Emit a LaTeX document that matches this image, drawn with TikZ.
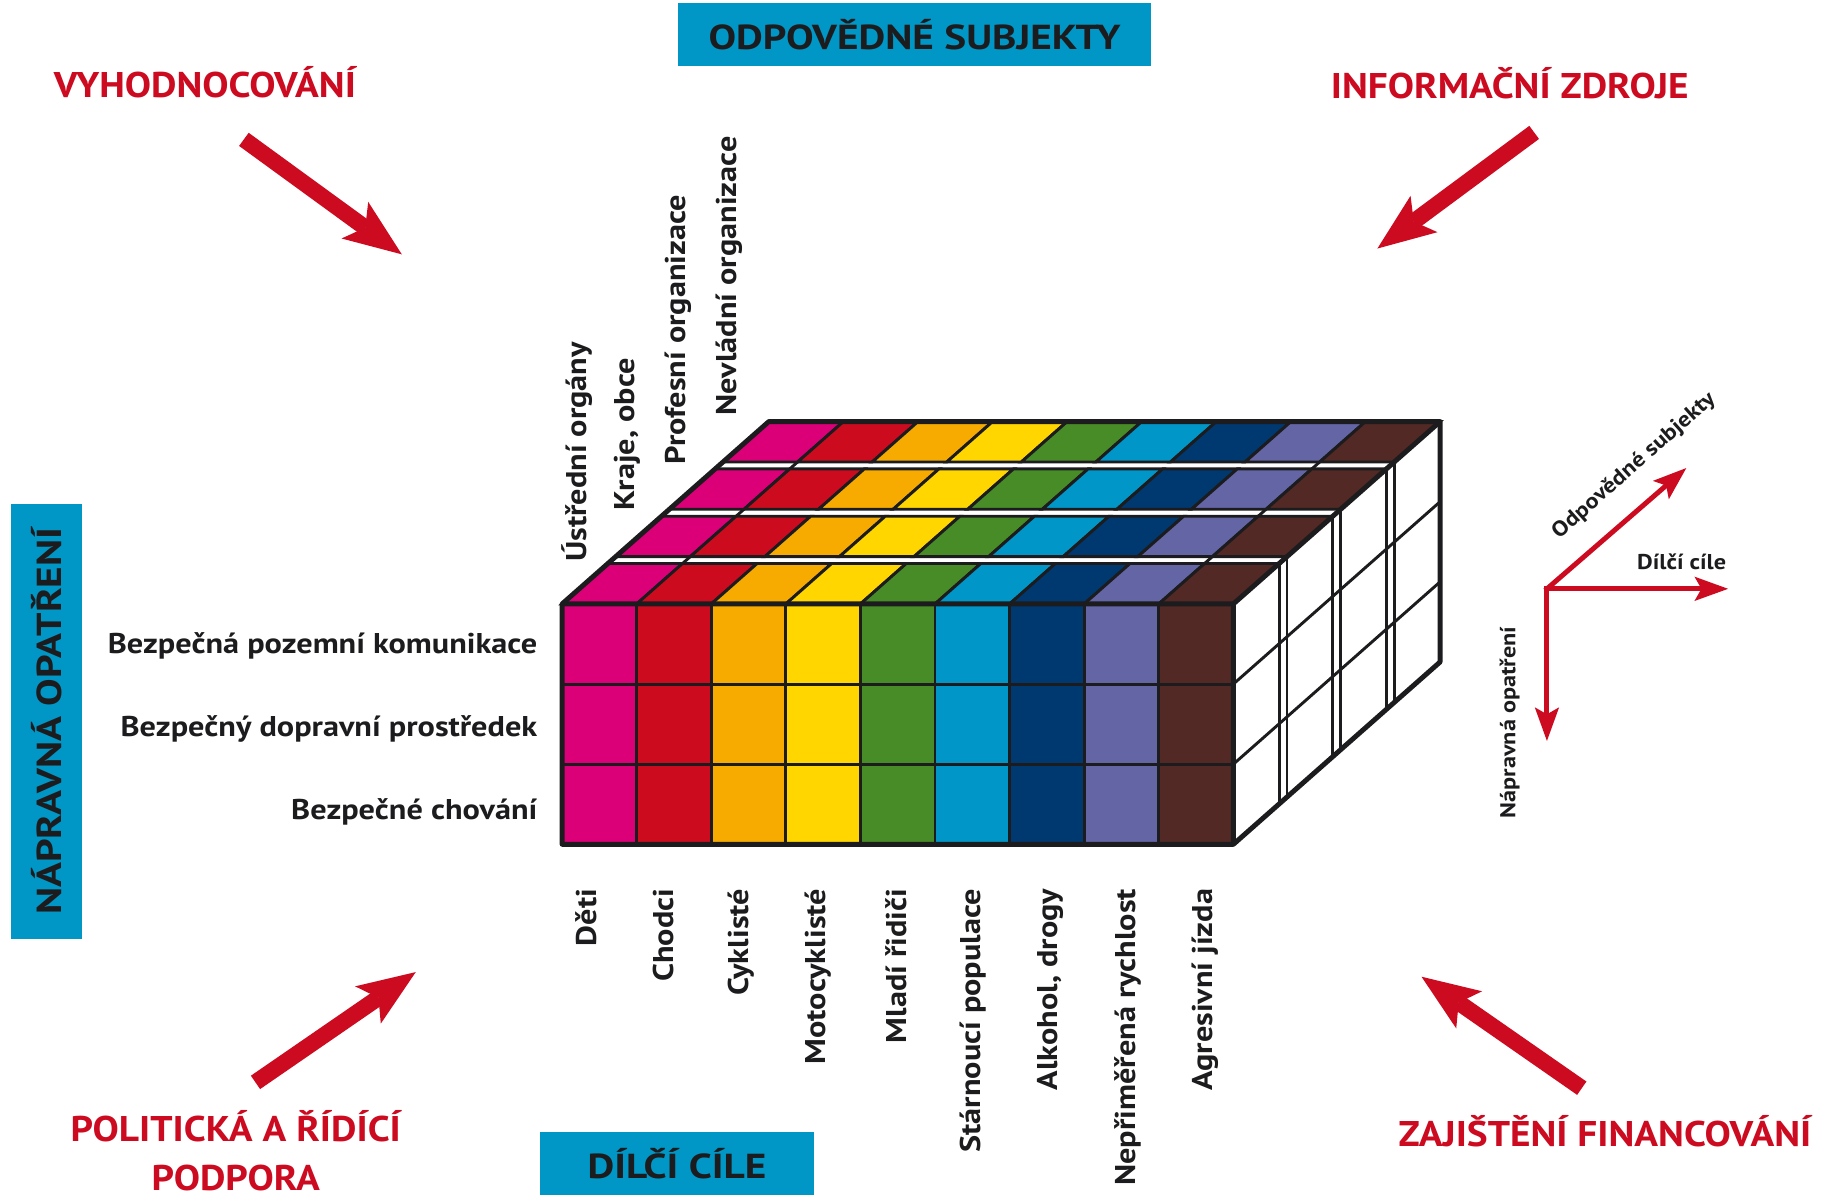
\documentclass[tikz,border=0pt]{standalone}
\usepackage{fontspec}
\setmainfont[FakeStretch=1.13]{PT Sans}
\newfontfamily\redfont[FakeStretch=1.1]{PT Sans}
\newfontfamily\boxfont[FakeStretch=1.19]{PT Sans}
\usetikzlibrary{arrows.meta}
\definecolor{c1}{RGB}{220,0,120}
\definecolor{c2}{RGB}{204,12,30}
\definecolor{c3}{RGB}{247,171,0}
\definecolor{c4}{RGB}{255,214,0}
\definecolor{c5}{RGB}{72,140,40}
\definecolor{c6}{RGB}{0,150,199}
\definecolor{c7}{RGB}{0,56,112}
\definecolor{c8}{RGB}{99,101,165}
\definecolor{c9}{RGB}{82,41,36}
\definecolor{boxblue}{RGB}{0,150,197}
\definecolor{arrowred}{RGB}{204,10,32}
\definecolor{ink}{RGB}{28,28,30}

\begin{document}
\begin{tikzpicture}[x=0.02cm,y=-0.02cm,
	cell/.style={draw=ink,line width=0.05cm},
	outer/.style={draw=ink,line width=0.085cm,line join=round},
	bluebox/.style={fill=boxblue,text=ink,font=\boxfont\bfseries\fontsize{17}{20}\selectfont,inner sep=0},
	redlabel/.style={text=arrowred,font=\redfont\bfseries\fontsize{17.5}{24}\selectfont,align=center,inner sep=0},
	bigarrow/.style={draw=arrowred,line width=0.28cm,-{Stealth[length=1cm,width=0.78cm,inset=0.22cm,line width=0pt]}},
	axisarrow/.style={draw=arrowred,line width=0.085cm,line cap=rect,-{Stealth[length=0.58cm,width=0.42cm,inset=0.12cm,line width=0pt]}},
	rowlabel/.style={text=ink,font=\bfseries\fontsize{14}{16}\selectfont,inner sep=0},
	axislabel/.style={text=ink,font=\bfseries\fontsize{10.5}{12}\selectfont,inner sep=0}]
\useasboundingbox (0,0) rectangle (1568,1032);

% modre popisky os
\node[bluebox,minimum width=8.14cm,minimum height=1.08cm] (subj) at (787.5,30) {ODPOVĚDNÉ SUBJEKTY};
\node[bluebox,minimum width=7.5cm,minimum height=1.22cm,rotate=90] (opat) at (40,621) {NÁPRAVNÁ OPATŘENÍ};
\node[bluebox,minimum width=4.72cm,minimum height=1.08cm] (cile) at (583,1002) {DÍLČÍ CÍLE};

% cervene popisky a sipky
\node[redlabel,anchor=base] (vyh) at (176.5,84) {VYHODNOCOVÁNÍ};
\node[redlabel,anchor=base] (info) at (1300,84.5) {INFORMAČNÍ ZDROJE};
\node[redlabel,anchor=base] (pol) at (203,1025) {POLITICKÁ A ŘÍDÍCÍ\\PODPORA};
\node[redlabel,anchor=base] (fin) at (1382,987) {ZAJIŠTĚNÍ FINANCOVÁNÍ};
\coordinate (vyh-a) at (210,120);
\coordinate (vyh-b) at (346,219);
\coordinate (info-a) at (1321,114);
\coordinate (info-b) at (1186,214);
\coordinate (pol-a) at (220,932);
\coordinate (pol-b) at (358,837);
\coordinate (fin-a) at (1362,937);
\coordinate (fin-b) at (1224,841);
\draw[bigarrow] (vyh-a) -- (vyh-b);
\draw[bigarrow] (info-a) -- (info-b);
\draw[bigarrow] (pol-a) -- (pol-b);
\draw[bigarrow] (fin-a) -- (fin-b);

% kvadr - predni stena
\foreach \c [count=\i from 0] in {c1,c2,c3,c4,c5,c6,c7,c8,c9}
	\filldraw[cell,fill=\c] ({484+\i*64.22},520) rectangle ++(64.22,207);
\draw[cell] (484,589) -- (1062,589) (484,658) -- (1062,658);
% horni stena
\foreach \a/\b in {0/0.2215,0.2595/0.481,0.519/0.7405,0.7785/1}
	\foreach \c [count=\i from 0] in {c1,c2,c3,c4,c5,c6,c7,c8,c9}
		\filldraw[cell,fill=\c] ({484+\i*64.22+\a*178},{520-\a*157}) -- ++(64.22,0) -- ++({(\b-\a)*178},{(\a-\b)*157}) -- ++(-64.22,0) -- cycle;
\foreach \a/\b in {0.2215/0.2595,0.481/0.519,0.7405/0.7785}
	\foreach \i in {1,8}
		\draw[cell] ({484+\i*64.22+\a*178},{520-\a*157}) -- ({484+\i*64.22+\b*178},{520-\b*157});
% bocni stena
\foreach \t in {0.2215,0.2595,0.481,0.519,0.7405,0.7785}
	\draw[cell] ({1062+\t*178},{520-\t*157}) -- ++(0,207);
\draw[cell] (1062,589) -- ++(178,-157) (1062,658) -- ++(178,-157);
\draw[outer] (484,520) -- (662,363) -- (1240,363) -- (1240,570) -- (1062,727) -- (484,727) -- cycle;
\draw[outer] (484,520) -- (1062,520) -- (1240,363) (1062,520) -- (1062,727);

% radky
\node[rowlabel,anchor=base east] (r1) at (463,563) {Bezpečná pozemní komunikace};
\node[rowlabel,anchor=base east] (r2) at (463,634.5) {Bezpečný dopravní prostředek};
\node[rowlabel,anchor=base east] (r3) at (463,706) {Bezpečné chování};

% sloupce
\node[rowlabel,rotate=90,anchor=east] (k1) at (505,765) {Děti};
\node[rowlabel,rotate=90,anchor=east] (k2) at (571.6,765) {Chodci};
\node[rowlabel,rotate=90,anchor=east] (k3) at (638.2,765) {Cyklisté};
\node[rowlabel,rotate=90,anchor=east] (k4) at (704.8,765) {Motocyklisté};
\node[rowlabel,rotate=90,anchor=east] (k5) at (771.4,765) {Mladí řidiči};
\node[rowlabel,rotate=90,anchor=east] (k6) at (838,765) {Stárnoucí populace};
\node[rowlabel,rotate=90,anchor=east] (k7) at (904.6,765) {Alkohol, drogy};
\node[rowlabel,rotate=90,anchor=east] (k8) at (971.2,765) {Nepřiměřená rychlost};
\node[rowlabel,rotate=90,anchor=east] (k9) at (1037.8,765) {Agresivní jízda};

% vrstvy
\node[rowlabel,rotate=90,anchor=west] (s1) at (497,484) {Ústřední orgány};
\node[rowlabel,rotate=90,anchor=west] (s2) at (540,440) {Kraje, obce};
\node[rowlabel,rotate=90,anchor=west] (s3) at (584,400) {Profesní organizace};
\node[rowlabel,rotate=90,anchor=west] (s4) at (628,358) {Nevládní organizace};

% osy
\coordinate (ax0) at (1332,507);
\coordinate (axx) at (1488,507);
\coordinate (axy) at (1332,638);
\coordinate (axz) at (1452,403);
\draw[axisarrow] (ax0) -- (axx);
\draw[axisarrow] (ax0) -- (axy);
\draw[axisarrow] (ax0) -- (axz);
\node[axislabel] (lx) at (1448,484) {Dílčí cíle};
\node[axislabel,rotate=41.5] (lz) at (1407,401) {Odpovědné subjekty};
\node[axislabel,rotate=90] (ly) at (1300,622) {Nápravná opatření};
\end{tikzpicture}
\end{document}
